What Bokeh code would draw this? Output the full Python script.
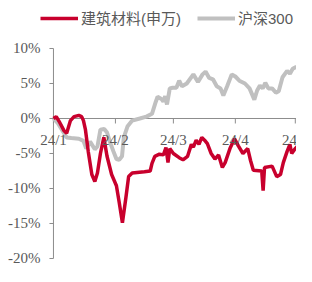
from bokeh.plotting import figure
from bokeh.models import Range1d, Legend, LegendItem, LabelSet, ColumnDataSource
from bokeh.embed import file_html
from bokeh.resources import INLINE

# ---- data (x = calendar days since 2024-01-01, y = cumulative return %) ----
red_days = [0, 1.4, 2.8, 5.2, 6.6, 8.5, 10.3, 12.7, 14.1, 15, 16, 17.4, 19.2, 20.7, 22, 23.5, 25.2,
            26.8, 29.1, 31.5, 32.9, 34.5, 36.2, 37.6, 39.4, 45.5, 48.4, 49.3, 50.7, 53, 55, 56.3, 57.3,
            58.2, 60, 62.9, 64.8, 67.1, 69, 70, 71.4, 72.8, 74.2, 75.6, 77, 78.9, 80.8, 82.6, 84.5,
            85.9, 88.3, 90.6, 92.5, 94.8, 97.2, 98.6, 100, 104.2, 104.9, 105.6, 109.4, 111.7, 113.6,
            115, 116.9, 118.3, 119.2, 120.7, 122]
red_vals = [0, 0.27, -0.4, -1.7, -2.1, -0.3, 0.27, 0.44, 0.27, -0.3, -1.6, -4.7, -8.0, -9.0, -7.8, -5.0, -2.7,
            -5.4, -8.0, -9.6, -12.0, -14.9, -11.4, -8.3, -7.8, -7.6, -7.5, -6.4, -5.4, -5.1, -5.2, -4.15, -6.3,
            -4.3, -5.0, -5.6, -5.9, -5.4, -3.7, -4.1, -3.1, -3.7, -2.7, -3.1, -3.6, -5.0, -5.8, -5.2, -7.0,
            -6.3, -4.3, -2.9, -3.9, -5.0, -4.3, -6.0, -7.4, -7.5, -10.3, -7.0, -6.8, -8.3, -8.0,
            -6.3, -4.7, -3.7, -5.0, -4.4, -4.0]

gray_days = [0, 2.3, 4.2, 6.6, 8.9, 12.7, 15, 16.4, 18.3, 20.7, 22, 23.5, 25.4, 26.8, 28.2, 30, 31.5,
             32.9, 34.3, 35.2, 37.1, 39.4, 43.2, 46.5, 49.3, 51.2, 52.1, 54, 55, 55.9, 56.8, 58.2, 59.6,
             61.5, 62.9, 64.3, 66.7, 70, 72.3, 74.6, 76.1, 77.9, 79.8, 81.7, 83.6, 85, 86.9, 89.2, 91,
             93, 95.8, 98.1, 100.5, 101.9, 103.3, 104.7, 106, 107.5, 109.4, 111.3, 112.7, 114.6, 116.9,
             118.3, 119.7, 121.6]
gray_vals = [0, -0.7, -1.6, -2.7, -2.8, -2.9, -3.2, -4.3, -3.3, -4.4, -4.0, -1.6, -1.5, -2.0, -3.3, -4.7, -5.8,
             -5.9, -5.4, -2.7, -1.1, -0.3, 0, 0.27, 0.67, 2.4, 3.1, 2.8, 2.4, 3.2, 2.0, 4.3, 4.4,
             4.4, 5.4, 4.6, 5.0, 6.3, 5.2, 6.3, 6.7, 5.8, 5.6, 4.6, 4.3, 3.3, 4.6, 6.3, 6.0,
             5.4, 5.0, 4.3, 2.7, 4.0, 4.7, 4.3, 5.1, 4.3, 4.3, 3.7, 3.9, 5.9, 6.8,
             6.4, 7.1, 7.4]

month_days = [0, 31, 60, 91, 121]
month_labels = ["24/1", "24/2", "24/3", "24/4", "24/5"]
y_ticks = [-20, -15, -10, -5, 0, 5, 10]
y_labels = ["-20%", "-15%", "-10%", "-5%", "0%", "5%", "10%"]
series_names = ["建筑材料(申万)", "沪深300"]

# ---- style ----
RED = "#C8002D"
GRAY = "#C0C0C0"
AXIS = "#8C8C8C"
TEXT = "#595959"
FONT = "Liberation Sans, Noto Sans CJK SC"
FS = "15px"
W, H = 296, 266
X0, X1 = -26.5, 121.6        # visible day range (frame covers whole figure)
Y0, Y1 = -21.143, 16.857     # visible % range
PX_PER_DAY = W / (X1 - X0)
PX_PER_PCT = H / (Y1 - Y0)
XTICK = 5 / PX_PER_PCT       # x tick length (5px) in % units
YTICK = 4 / PX_PER_DAY       # y tick length (4px) in day units

p = figure(width=W, height=H, output_backend="svg", toolbar_location=None,
           x_range=Range1d(X0, X1), y_range=Range1d(Y0, Y1),
           x_axis_location=None, y_axis_location=None,
           min_border_left=0, min_border_right=0, min_border_top=0, min_border_bottom=0)
p.outline_line_color = None
p.xgrid.visible = False
p.ygrid.visible = False
p.background_fill_color = "white"

# y axis (drawn at day 0)
p.segment(x0=[0], y0=[min(y_ticks)], x1=[0], y1=[max(y_ticks)], line_color=AXIS, line_width=1)
p.segment(x0=[-YTICK] * len(y_ticks), y0=y_ticks, x1=[0] * len(y_ticks), y1=y_ticks,
          line_color=AXIS, line_width=1)
ysrc = ColumnDataSource(dict(x=[0] * len(y_ticks), y=y_ticks, t=y_labels))
p.add_layout(LabelSet(x="x", y="y", text="t", source=ysrc, x_offset=-13,
                      text_align="right", text_baseline="middle", text_font=FONT,
                      text_font_size=FS, text_color=TEXT))

# x axis (drawn at 0%)
p.segment(x0=[0], y0=[0], x1=[X1], y1=[0], line_color=AXIS, line_width=1)
p.segment(x0=month_days, y0=[0] * len(month_days), x1=month_days,
          y1=[-XTICK] * len(month_days), line_color=AXIS, line_width=1)
xsrc = ColumnDataSource(dict(x=month_days, y=[0] * len(month_days), t=month_labels))
p.add_layout(LabelSet(x="x", y="y", text="t", source=xsrc, y_offset=-14,
                      text_align="center", text_baseline="top", text_font=FONT,
                      text_font_size=FS, text_color=TEXT))

g = p.line(gray_days, gray_vals, line_color=GRAY, line_width=4)
r = p.line(red_days, red_vals, line_color=RED, line_width=3.5)

legend = Legend(items=[LegendItem(label=series_names[0], renderers=[r]),
                       LegendItem(label=series_names[1], renderers=[g])],
                orientation="horizontal", location=(40, H - 28),
                border_line_color=None, background_fill_alpha=0,
                label_text_font=FONT, label_text_font_size=FS, label_text_color=TEXT,
                glyph_width=38, glyph_height=18, label_standoff=3, spacing=16,
                padding=0, margin=0)
p.add_layout(legend, "center")

open("out.html", "w").write(file_html(p, INLINE))
